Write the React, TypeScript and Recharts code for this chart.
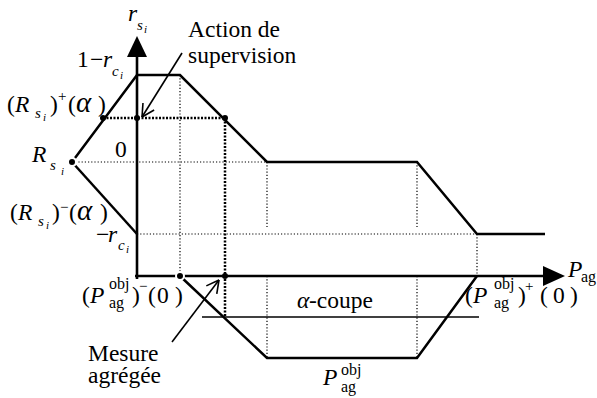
import { LineChart, Line, XAxis, YAxis, ReferenceLine, ReferenceDot } from "recharts"

// picture units: x measured from the r_s axis, y from the P_ag axis
const rsX = [-6.5, 0, 4.3, 13, 28, 34, 40.8]
const rsY = [11.4, 20.1, 20.1, 11.4, 11.4, 4.2, 4.2]
const rsLowX = [-6.5, 0]
const rsLowY = [11.4, 4.2]
const pObjX = [4.3, 13, 28, 34]
const pObjY = [0, -8.2, -8.2, 0]

const levelOne = 20.1 // 1 - r_c
const levelAlpha = 15.8 // (R_s)+(alpha)
const levelZero = 11.4 // R_s  (r_s = 0)
const levelNeg = 4.2 // -r_c
const gridStop = 4.9
const cutY = -4.1 // alpha-coupe
const cutX = [6.5, 34.2]
const alphaDotsX = [-3.4, 0, 8.8]
const measureX = 8.8

const yAxisTop = 21.9
const xAxisEnd = 40.6

const supervisionArrow = [[4.5, 22.3], [0.5, 15.9]]
const mesureArrow = [[3.5, -6.6], [8.2, -0.4]]

const serif = "'Liberation Serif', 'Times New Roman', serif"
const FS = 23.5

type Pt = number[]
type Piece = { t: string; dx?: number; dy?: number; size?: number; it?: boolean }

const zip = (xs: number[], ys: number[]) => xs.map((x, i) => ({ x, y: ys[i] }))

const seg = (a: Pt, b: Pt) => [{ x: a[0], y: a[1] }, { x: b[0], y: b[1] }]

const wings = (from: Pt, to: Pt, len = 1.4, deg = 28) => {
	const a = Math.atan2(from[1] - to[1], from[0] - to[0])
	return [-1, 1].map((s) => {
		const b = a + (s * deg * Math.PI) / 180
		return [to, [to[0] + len * Math.cos(b), to[1] + len * Math.sin(b)]]
	})
}

const thinDots: Pt[][] = [
	[[rsX[0], levelZero], [rsX[3], levelZero]],
	[[0, levelNeg], [rsX[5], levelNeg]],
	[[rsX[2], levelOne], [rsX[2], 0]],
	[[rsX[3], levelZero], [rsX[3], gridStop]],
	[[rsX[4], levelZero], [rsX[4], gridStop]],
	[[rsX[5], levelNeg], [rsX[5], 0]],
	[[pObjX[1], 0], [pObjX[1], pObjY[1]]],
	[[pObjX[2], 0], [pObjX[2], pObjY[2]]],
]

const boldDots: Pt[][] = [
	[[alphaDotsX[0], levelAlpha], [alphaDotsX[2], levelAlpha]],
	[[measureX, levelAlpha], [measureX, cutY]],
]

const thinLines: Pt[][] = [
	[[cutX[0], cutY], [cutX[1], cutY]],
	supervisionArrow,
	...wings(supervisionArrow[0], supervisionArrow[1]),
	mesureArrow,
	...wings(mesureArrow[0], mesureArrow[1]),
]

// one <text> per label, pieces placed as tspans
const label = (key: string, x: number, y: number, pieces: Piece[]) => (
	<ReferenceDot
		key={key}
		x={x}
		y={y}
		r={0}
		ifOverflow="visible"
		shape={(p: any) => (
			<text fontFamily={serif} fontSize={FS} fill="#000">
				{pieces.map((pc, i) => (
					<tspan
						key={i}
						x={p.cx + (pc.dx ?? 0)}
						y={p.cy + (pc.dy ?? 0)}
						fontSize={pc.size ?? FS}
						fontStyle={pc.it ? "italic" : "normal"}
					>
						{pc.t}
					</tspan>
				))}
			</text>
		)}
	/>
)

const App = () => {
	return (
		<div style={{ position: "absolute", left: 0, top: 0, width: 597, height: 398, background: "#fff" }}>
			<LineChart width={597} height={398} margin={{ top: 0, right: 0, bottom: 0, left: 0 }}>
				<XAxis dataKey="x" type="number" domain={[-13.7, 46]} allowDataOverflow hide />
				<YAxis type="number" domain={[-12.2, 27.6]} allowDataOverflow hide />

				{thinDots.map((s, i) => (
					<ReferenceLine key={"td" + i} segment={seg(s[0], s[1])} stroke="#000" strokeWidth={1.2} strokeDasharray="1.2 2" ifOverflow="visible" />
				))}
				{boldDots.map((s, i) => (
					<ReferenceLine key={"bd" + i} segment={seg(s[0], s[1])} stroke="#000" strokeWidth={2.5} strokeDasharray="2 1.5" ifOverflow="visible" />
				))}
				{thinLines.map((s, i) => (
					<ReferenceLine key={"tl" + i} segment={seg(s[0], s[1])} stroke="#000" strokeWidth={1.6} ifOverflow="visible" />
				))}

				{/* axes */}
				<ReferenceLine segment={seg([0, -0.3], [0, yAxisTop])} stroke="#000" strokeWidth={2.6} ifOverflow="visible" />
				<ReferenceLine segment={seg([-0.2, 0], [xAxisEnd, 0])} stroke="#000" strokeWidth={2.6} ifOverflow="visible" />
				<ReferenceDot
					x={0}
					y={yAxisTop}
					r={0}
					ifOverflow="visible"
					shape={(p: any) => <polygon points={`${p.cx - 10},${p.cy} ${p.cx + 10},${p.cy} ${p.cx},${p.cy - 21}`} fill="#000" />}
				/>
				<ReferenceDot
					x={xAxisEnd}
					y={0}
					r={0}
					ifOverflow="visible"
					shape={(p: any) => <polygon points={`${p.cx},${p.cy - 10} ${p.cx},${p.cy + 10} ${p.cx + 22},${p.cy}`} fill="#000" />}
				/>

				<Line data={zip(rsX, rsY)} dataKey="y" type="linear" stroke="#000" strokeWidth={2.5} dot={false} isAnimationActive={false} />
				<Line data={zip(rsLowX, rsLowY)} dataKey="y" type="linear" stroke="#000" strokeWidth={2.5} dot={false} isAnimationActive={false} />
				<Line data={zip(pObjX, pObjY)} dataKey="y" type="linear" stroke="#000" strokeWidth={2.5} dot={false} isAnimationActive={false} />

				{alphaDotsX.map((x, i) => (
					<ReferenceDot key={"ad" + i} x={x} y={levelAlpha} r={3} fill="#000" stroke="none" ifOverflow="visible" />
				))}
				<ReferenceDot x={measureX} y={0} r={3} fill="#000" stroke="none" ifOverflow="visible" />

				{label("rs", -0.9, 25.5, [
					{ t: "r", it: true },
					{ t: "s", dx: 9, dy: 9, size: 15, it: true },
					{ t: "i", dx: 16, dy: 12, size: 11, it: true },
				])}
				{label("action", 5.1, 23.9, [{ t: "Action de" }, { t: "supervision", dy: 26 }])}
				{label("one", -6.0, 20.9, [
					{ t: "1" },
					{ t: "\u2212", dx: 13 },
					{ t: "r", dx: 26, it: true },
					{ t: "c", dx: 35, dy: 9, size: 15, it: true },
					{ t: "i", dx: 43, dy: 12, size: 11, it: true },
				])}
				{label("rplus", -13.0, 16.4, [
					{ t: "(" },
					{ t: "R", dx: 8, it: true },
					{ t: "s", dx: 28, dy: 6, size: 15, it: true },
					{ t: "i", dx: 36, dy: 9, size: 11, it: true },
					{ t: ")", dx: 43 },
					{ t: "+", dx: 51, dy: -11, size: 15 },
					{ t: "(", dx: 61 },
					{ t: "\u03b1", dx: 69, size: 29, it: true },
					{ t: ")", dx: 91 },
				])}
				{label("rs0", -10.5, 11.4, [
					{ t: "R", it: true },
					{ t: "s", dx: 18, dy: 8, size: 15, it: true },
					{ t: "i", dx: 29, dy: 13, size: 11, it: true },
				])}
				{label("zero", -2.2, 11.9, [{ t: "0" }])}
				{label("rminus", -12.7, 5.6, [
					{ t: "(" },
					{ t: "R", dx: 8, it: true },
					{ t: "s", dx: 28, dy: 6, size: 15, it: true },
					{ t: "i", dx: 36, dy: 9, size: 11, it: true },
					{ t: ")", dx: 42 },
					{ t: "\u2212", dx: 50, dy: -8, size: 15 },
					{ t: "(", dx: 59 },
					{ t: "\u03b1", dx: 67, size: 29, it: true },
					{ t: ")", dx: 90 },
				])}
				{label("rc", -4.1, 3.4, [
					{ t: "\u2212" },
					{ t: "r", dx: 12, it: true },
					{ t: "c", dx: 22, dy: 8, size: 15, it: true },
					{ t: "i", dx: 30, dy: 11, size: 11, it: true },
				])}
				{label("pminus", -5.5, -2.7, [
					{ t: "(" },
					{ t: "P", dx: 8, it: true },
					{ t: "obj", dx: 27, dy: -14, size: 16 },
					{ t: "ag", dx: 27, dy: 5, size: 16 },
					{ t: ")", dx: 50 },
					{ t: "\u2212", dx: 57, dy: -12, size: 15 },
					{ t: "(", dx: 66 },
					{ t: "0", dx: 75 },
					{ t: ")", dx: 93 },
				])}
				{label("cut", 16.0, -3.2, [{ t: "\u03b1", it: true }, { t: "-coupe", dx: 12 }])}
				{label("pplus", 32.8, -2.7, [
					{ t: "(" },
					{ t: "P", dx: 8, it: true },
					{ t: "obj", dx: 29, dy: -14, size: 16 },
					{ t: "ag", dx: 29, dy: 5, size: 16 },
					{ t: ")", dx: 53 },
					{ t: "+", dx: 60, dy: -12, size: 15 },
					{ t: "(", dx: 75 },
					{ t: "0", dx: 88 },
					{ t: ")", dx: 105 },
				])}
				{label("pag", 43.1, -0.1, [
					{ t: "P", it: true },
					{ t: "ag", dx: 13, dy: 5, size: 16 },
				])}
				{label("mesure", -4.9, -8.5, [{ t: "Mesure" }, { t: "agr\u00e9g\u00e9e", dy: 22 }])}
				{label("pobj", 18.6, -10.9, [
					{ t: "P", it: true },
					{ t: "obj", dx: 18, dy: -10, size: 16 },
					{ t: "ag", dx: 18, dy: 7, size: 16 },
				])}
			</LineChart>
		</div>
	)
}

export default App
